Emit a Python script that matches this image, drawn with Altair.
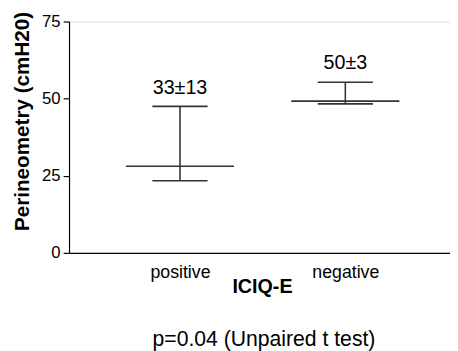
import altair as alt
import pandas as pd

categories = ["positive", "negative"]
positions = [1, 2]
median = [28.1, 49.2]
lower = [23.4, 48.3]
upper = [47.5, 55.3]
labels = ["33\u00b113", "50\u00b13"]
y_ticks = [0, 25, 50, 75]
note = "p=0.04 (Unpaired t test)"

df = pd.DataFrame({"cat": categories, "pos": positions, "median": median,
                   "lower": lower, "upper": upper, "label": labels})

FONT = "Liberation Sans"
COLOR = "#333333"
xdom = [0.329, 2.633]

xs = alt.Scale(domain=xdom, nice=False, zero=False)
ys = alt.Scale(domain=[0, 75], nice=False)

base = alt.Chart(df).transform_calculate(
    m0="datum.pos - 0.327", m1="datum.pos + 0.327",
    c0="datum.pos - 0.167", c1="datum.pos + 0.167")

xaxis = alt.Axis(values=positions, labelExpr="datum.value == 1 ? 'positive' : 'negative'",
                 ticks=False, tickSize=0, grid=False, domainColor="black", domainWidth=1.2,
                 labelFont=FONT, labelFontSize=18, labelColor="black", labelPadding=20,
                 labelBaseline="middle", title="ICIQ-E", titleFont=FONT, titleFontSize=20,
                 titleFontWeight="bold", titleColor="black", titleX=196, titleY=34,
                 titleBaseline="middle", titleAlign="center")
yaxis = alt.Axis(values=y_ticks, grid=False, tickSize=6, tickColor="black", domainColor="black",
                 domainWidth=1.2, tickWidth=1.2, labelFont=FONT, labelFontSize=17,
                 labelColor="black", labelPadding=3, title="Perineometry (cmH20)",
                 titleFont=FONT, titleFontSize=21, titleFontWeight="bold", titleColor="black",
                 titleX=-47, titleY=101, titleBaseline="middle", titleAlign="center", titleAngle=270)

med = base.mark_rule(color=COLOR, strokeWidth=1.6).encode(
    x=alt.X("m0:Q", scale=xs, axis=xaxis), x2="m1:Q",
    y=alt.Y("median:Q", scale=ys, axis=yaxis))
whisk = base.mark_rule(color=COLOR, strokeWidth=1.6).encode(
    x=alt.X("pos:Q", scale=xs), y=alt.Y("lower:Q", scale=ys), y2="upper:Q")
capu = base.mark_rule(color=COLOR, strokeWidth=1.6).encode(
    x=alt.X("c0:Q", scale=xs), x2="c1:Q", y=alt.Y("upper:Q", scale=ys))
capl = base.mark_rule(color=COLOR, strokeWidth=1.6).encode(
    x=alt.X("c0:Q", scale=xs), x2="c1:Q", y=alt.Y("lower:Q", scale=ys))
txt = base.mark_text(font=FONT, fontSize=20, color="black", baseline="alphabetic", dy=-13).encode(
    x=alt.X("pos:Q", scale=xs), y=alt.Y("upper:Q", scale=ys), text="label:N")
ptxt = alt.Chart(pd.DataFrame({"t": [note]})).mark_text(
    font=FONT, fontSize=21.5, color="black", baseline="middle", align="center").encode(
    x=alt.value(198), y=alt.value(324), text="t:N")

chart = alt.layer(med, whisk, capu, capl, txt, ptxt).properties(
    width=387, height=235, autosize="none",
    padding={"left": 62, "top": 11, "right": 0, "bottom": 100}
).configure_view(stroke=None).configure(background="white")

chart.save("out.html", embed_options={"renderer": "svg", "actions": False})
